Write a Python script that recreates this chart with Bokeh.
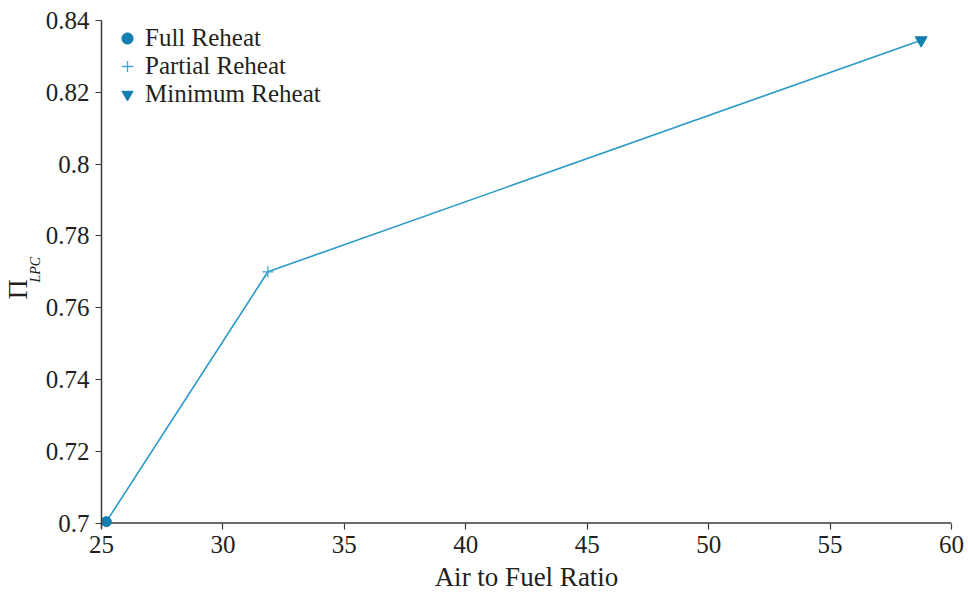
from bokeh.plotting import figure
from bokeh.models import Range1d, Legend, LegendItem, FixedTicker, Title
from bokeh.embed import file_html
from bokeh.resources import INLINE

# Data
series_names = ["Full Reheat", "Partial Reheat", "Minimum Reheat"]
air_fuel = [25.2, 31.85, 58.75]
pi_lpc = [0.7004, 0.770, 0.8345]
x_ticks = [25, 30, 35, 40, 45, 50, 55, 60]
y_ticks = [0.70, 0.72, 0.74, 0.76, 0.78, 0.80, 0.82, 0.84]
y_tick_labels = {0.70: "0.7", 0.72: "0.72", 0.74: "0.74", 0.76: "0.76",
                 0.78: "0.78", 0.80: "0.8", 0.82: "0.82", 0.84: "0.84"}

FONT = "Liberation Serif"
LINE_C = "#2a9bc6"
CROSS_C = "#3ea6d6"
MARK_C = "#137fb0"
TEXT_C = "#231f20"
AXIS_C = "#3a3a3a"

# y range extends a few pixels below 0.7 so the first marker is not clipped;
# the x axis line is drawn at y = 0.7 below.
p = figure(width=968, height=595, output_backend="svg", toolbar_location=None,
           x_range=Range1d(x_ticks[0], x_ticks[-1]),
           y_range=Range1d(0.6985, y_ticks[-1]),
           min_border_left=101, min_border_right=17, min_border_top=20,
           min_border_bottom=67, outline_line_color=None)
p.grid.visible = False

for ax in (p.xaxis[0], p.yaxis[0]):
    ax.major_label_text_font = FONT
    ax.major_label_text_font_size = "25px"
    ax.major_label_text_color = TEXT_C
    ax.axis_line_color = AXIS_C
    ax.major_tick_line_color = AXIS_C
    ax.axis_line_width = 1.5
    ax.major_tick_line_width = 1.2
    ax.minor_tick_line_color = None

p.yaxis.major_tick_in = 0
p.yaxis.major_tick_out = 6
p.yaxis.major_label_standoff = 6
p.xaxis.axis_line_color = None
p.xaxis.major_tick_in = 5
p.xaxis.major_tick_out = 1
p.xaxis.major_label_standoff = 6

p.xaxis.ticker = FixedTicker(ticks=x_ticks)
p.yaxis.ticker = FixedTicker(ticks=y_ticks)
p.yaxis.major_label_overrides = y_tick_labels
p.xaxis.axis_label = "Air to Fuel Ratio"
p.xaxis.axis_label_text_font = FONT
p.xaxis.axis_label_text_font_size = "27px"
p.xaxis.axis_label_text_font_style = "normal"
p.xaxis.axis_label_text_color = TEXT_C
p.xaxis.axis_label_standoff = 6

# x axis line at y = 0.7
p.line([x_ticks[0], x_ticks[-1]], [y_ticks[0], y_ticks[0]],
       line_color=AXIS_C, line_width=1.5)

p.line(air_fuel, pi_lpc, line_color=LINE_C, line_width=1.6)
r0 = p.scatter([air_fuel[0]], [pi_lpc[0]], marker="circle", size=10,
               fill_color=MARK_C, line_color=MARK_C)
r1 = p.scatter([air_fuel[1]], [pi_lpc[1]], marker="cross", size=11,
               line_color=CROSS_C, line_width=1.3)
r2 = p.scatter([air_fuel[2]], [pi_lpc[2]], marker="inverted_triangle", size=12,
               fill_color=MARK_C, line_color=MARK_C)

legend = Legend(items=[LegendItem(label=series_names[0], renderers=[r0]),
                       LegendItem(label=series_names[1], renderers=[r1]),
                       LegendItem(label=series_names[2], renderers=[r2])],
                location=(8, 420), border_line_color=None,
                background_fill_alpha=0, label_text_font=FONT,
                label_text_font_size="25px", label_text_color=TEXT_C,
                spacing=0, padding=0, margin=0, label_standoff=0,
                glyph_width=36, glyph_height=28, label_height=28)
p.add_layout(legend)

# y-axis label: Π with italic subscript LPC
p.add_layout(Title(text="LPC", text_font=FONT, text_font_size="14px",
                   text_font_style="italic", text_color=TEXT_C,
                   align="left", offset=246, standoff=0), "left")
p.add_layout(Title(text="Π", text_font=FONT, text_font_size="28px",
                   text_font_style="normal", text_color=TEXT_C,
                   align="left", offset=229, standoff=-15), "left")

open("out.html", "w").write(file_html(p, INLINE))
